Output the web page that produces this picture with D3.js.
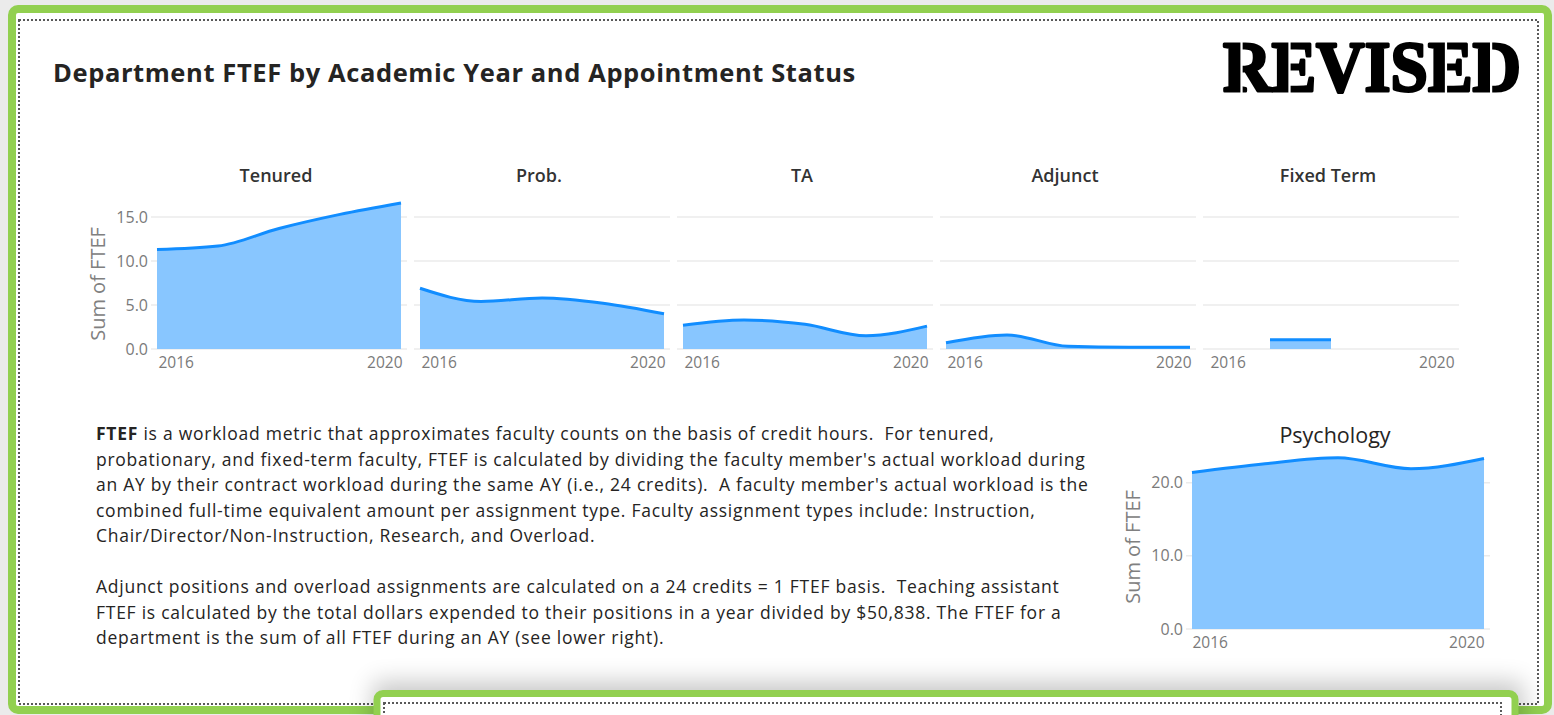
<!DOCTYPE html>
<html>
<head>
<meta charset="utf-8">
<script src="https://cdn.jsdelivr.net/npm/d3@7"></script>
<style>
  body { margin: 0; background: #ebebeb; }
  svg { display: block; }
  text { font-family: "Open Sans", "Noto Sans", sans-serif; }
</style>
</head>
<body>
<svg id="chart" width="1554" height="715"></svg>
<script>
// ---- data ----
const years = [2016, 2017, 2018, 2019, 2020];
const statuses = ["Tenured", "Prob.", "TA", "Adjunct", "Fixed Term"];
const tenured = [11.3, 11.7, 13.7, 15.3, 16.6];
const prob = [6.9, 5.4, 5.8, 5.2, 4.0];
const ta = [2.7, 3.3, 2.8, 1.5, 2.6];
const adjunct = [0.7, 1.6, 0.3, 0.2, 0.2];
const fixedTerm = [null, 1.05, 1.05, null, null];
const psychology = [21.4, 22.6, 23.4, 21.9, 23.3];
const smallTicks = [0, 5, 10, 15];
const psychTicks = [0, 10, 20];
const yearTicks = [2016, 2020];
const seriesByStatus = [tenured, prob, ta, adjunct, fixedTerm];

const noteLines = [
  "is a workload metric that approximates faculty counts on the basis of credit hours.  For tenured,",
  "probationary, and fixed-term faculty, FTEF is calculated by dividing the faculty member's actual workload during",
  "an AY by their contract workload during the same AY (i.e., 24 credits).  A faculty member's actual workload is the",
  "combined full-time equivalent amount per assignment type. Faculty assignment types include: Instruction,",
  "Chair/Director/Non-Instruction, Research, and Overload.",
  "",
  "Adjunct positions and overload assignments are calculated on a 24 credits = 1 FTEF basis.  Teaching assistant",
  "FTEF is calculated by the total dollars expended to their positions in a year divided by $50,838. The FTEF for a",
  "department is the sum of all FTEF during an AY (see lower right)."
];

const GREEN = "#92d050";
const LINE = "#118dff";
const FILL = "#88c6ff";
const GRID = "#ebebeb";
const AXIS_TXT = "#7a7a7a";
const DARK = "#252423";

const svg = d3.select("#chart");
const defs = svg.append("defs");
const blur = defs.append("filter").attr("id", "shadow")
  .attr("x", "-10%").attr("y", "-100%").attr("width", "120%").attr("height", "300%");
blur.append("feGaussianBlur").attr("stdDeviation", 12);

// outer card
svg.append("rect")
  .attr("x", 12).attr("y", 9).attr("width", 1536).attr("height", 701).attr("rx", 6)
  .attr("fill", "#fff").attr("stroke", GREEN).attr("stroke-width", 8);
svg.append("rect")
  .attr("x", 19).attr("y", 20).attr("width", 1519).attr("height", 684)
  .attr("fill", "none").attr("stroke", "#595959").attr("stroke-width", 2)
  .attr("stroke-dasharray", "2,2");

// title
svg.append("text")
  .attr("x", 53).attr("y", 82)
  .attr("font-size", 25.5).attr("font-weight", 700).attr("fill", DARK)
  .attr("letter-spacing", 0.6)
  .text("Department FTEF by Academic Year and Appointment Status");

// stamp, heavy serif with stencil cuts
const stamp = svg.append("text")
  .attr("x", 1223).attr("y", 91)
  .style("font-family", "'Liberation Serif', 'DejaVu Serif', serif")
  .attr("font-size", 72).attr("font-weight", 700).attr("fill", "#000")
  .attr("stroke", "#000").attr("stroke-width", 3).attr("stroke-linejoin", "round")
  .attr("textLength", 298).attr("lengthAdjust", "spacingAndGlyphs")
  .text("REVISED");
const cuts = { 0: 0.36, 1: 0.38, 5: 0.38, 6: 0.36 };
Object.keys(cuts).forEach(k => {
  const ext = stamp.node().getExtentOfChar(+k);
  svg.append("rect")
    .attr("x", ext.x + ext.width * cuts[k]).attr("y", 36)
    .attr("width", 2.2).attr("height", 60).attr("fill", "#fff");
});

// ---- small multiples ----
const plotLeft = 157, plotW = 244, panelStep = 263;
const yS = d3.scaleLinear().domain([0, 15]).range([349, 217]);

statuses.forEach((name, i) => {
  const left = plotLeft + i * panelStep;
  const x = d3.scaleLinear().domain([2016, 2020]).range([left, left + plotW]);
  const g = svg.append("g");
  const pts = years.map((yr, k) => ({ year: yr, v: seriesByStatus[i][k] }));

  g.selectAll(".grid").data(smallTicks).join("line")
    .attr("x1", left - 6).attr("x2", left + plotW + 6)
    .attr("y1", d => yS(d)).attr("y2", d => yS(d))
    .attr("stroke", GRID).attr("stroke-width", 1.5);

  const area = d3.area()
    .defined(d => d.v != null)
    .x(d => x(d.year)).y0(yS(0)).y1(d => yS(d.v))
    .curve(d3.curveMonotoneX);
  const line = d3.line()
    .defined(d => d.v != null)
    .x(d => x(d.year)).y(d => yS(d.v))
    .curve(d3.curveMonotoneX);

  g.append("path").datum(pts).attr("d", area).attr("fill", FILL);
  g.append("path").datum(pts).attr("d", line)
    .attr("fill", "none").attr("stroke", LINE).attr("stroke-width", 3);

  g.append("text")
    .attr("x", left + plotW / 2 - 3).attr("y", 182)
    .attr("text-anchor", "middle").attr("font-size", 18).attr("font-weight", 600)
    .attr("fill", "#333").text(name);

  const xa = g.append("g").attr("transform", "translate(0,357)")
    .call(d3.axisBottom(x).tickValues(yearTicks).tickFormat(d3.format("d")).tickSize(0).tickPadding(0));
  xa.select(".domain").remove();
  xa.selectAll("text")
    .attr("font-size", 15.5).attr("fill", AXIS_TXT).attr("font-family", null)
    .attr("text-anchor", (d, k) => k === 0 ? "start" : "end")
    .attr("dx", 1);

  if (i === 0) {
    const ya = g.append("g").attr("transform", "translate(148,0)")
      .call(d3.axisLeft(yS).tickValues(smallTicks).tickFormat(d3.format(".1f")).tickSize(0).tickPadding(0));
    ya.select(".domain").remove();
    ya.selectAll("text").attr("font-size", 16).attr("fill", AXIS_TXT).attr("font-family", null);
    g.append("text")
      .attr("transform", "translate(105,284) rotate(-90)")
      .attr("text-anchor", "middle").attr("font-size", 20).attr("fill", "#808080")
      .text("Sum of FTEF");
  }
});

// ---- explanatory note ----
const note = svg.append("g");
noteLines.forEach((txt, k) => {
  const t = note.append("text")
    .attr("x", 96).attr("y", 440 + k * 25.5)
    .attr("font-size", 17.5).attr("letter-spacing", 0.74).attr("fill", DARK)
    .style("white-space", "pre");
  if (k === 0) {
    t.append("tspan").attr("font-weight", 700).text("FTEF");
    t.append("tspan").text(" " + txt);
  } else {
    t.text(txt);
  }
});

// ---- Psychology total ----
const pLeft = 1192, pRight = 1484;
const px = d3.scaleLinear().domain([2016, 2020]).range([pLeft, pRight]);
const py = d3.scaleLinear().domain([0, 20]).range([629, 482.7]);
const pg = svg.append("g");
const ppts = years.map((yr, k) => ({ year: yr, v: psychology[k] }));

pg.selectAll(".grid").data(psychTicks).join("line")
  .attr("x1", pLeft - 6).attr("x2", pRight + 6)
  .attr("y1", d => py(d)).attr("y2", d => py(d))
  .attr("stroke", GRID).attr("stroke-width", 1.5);
pg.append("path").datum(ppts)
  .attr("d", d3.area().x(d => px(d.year)).y0(py(0)).y1(d => py(d.v)).curve(d3.curveMonotoneX))
  .attr("fill", FILL);
pg.append("path").datum(ppts)
  .attr("d", d3.line().x(d => px(d.year)).y(d => py(d.v)).curve(d3.curveMonotoneX))
  .attr("fill", "none").attr("stroke", LINE).attr("stroke-width", 3);

pg.append("text")
  .attr("x", 1335).attr("y", 443).attr("text-anchor", "middle")
  .attr("font-size", 21.5).attr("fill", DARK).text("Psychology");

const pxa = pg.append("g").attr("transform", "translate(0,637)")
  .call(d3.axisBottom(px).tickValues(yearTicks).tickFormat(d3.format("d")).tickSize(0).tickPadding(0));
pxa.select(".domain").remove();
pxa.selectAll("text")
  .attr("font-size", 15.5).attr("fill", AXIS_TXT).attr("font-family", null)
  .attr("text-anchor", (d, k) => k === 0 ? "start" : "end");

const pya = pg.append("g").attr("transform", "translate(1183,0)")
  .call(d3.axisLeft(py).tickValues(psychTicks).tickFormat(d3.format(".1f")).tickSize(0).tickPadding(0));
pya.select(".domain").remove();
pya.selectAll("text").attr("font-size", 16).attr("fill", AXIS_TXT).attr("font-family", null);

pg.append("text")
  .attr("transform", "translate(1140,547) rotate(-90)")
  .attr("text-anchor", "middle").attr("font-size", 20).attr("fill", "#808080")
  .text("Sum of FTEF");

// ---- lower card peeking in ----
svg.append("rect")
  .attr("x", 373).attr("y", 682).attr("width", 1150).attr("height", 60)
  .attr("fill", "#000").attr("opacity", 0.22).attr("filter", "url(#shadow)");
svg.append("rect")
  .attr("x", 377).attr("y", 693.5).attr("width", 1138).attr("height", 60).attr("rx", 6)
  .attr("fill", "#fff").attr("stroke", GREEN).attr("stroke-width", 7);
svg.append("rect")
  .attr("x", 384).attr("y", 703).attr("width", 1117).attr("height", 40)
  .attr("fill", "none").attr("stroke", "#595959").attr("stroke-width", 2)
  .attr("stroke-dasharray", "2,2");
</script>
</body>
</html>
